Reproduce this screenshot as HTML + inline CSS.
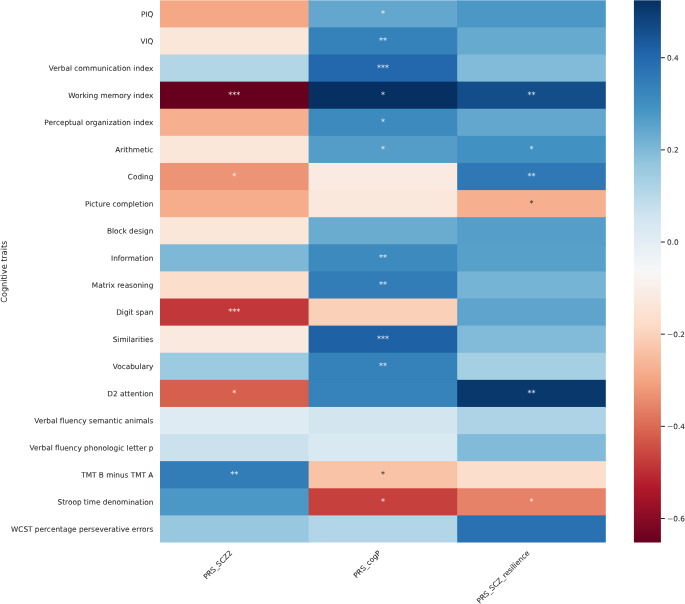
<!DOCTYPE html>
<html lang="en">
<head>
<meta charset="utf-8">
<title>Heatmap</title>
<style>
html,body{margin:0;padding:0;background:#fff;}
body{width:685px;height:604px;overflow:hidden;}
svg{display:block;}
text{font-family:"DejaVu Sans","Liberation Sans",sans-serif;fill:#262626;stroke:#262626;stroke-width:0.05px;}
.yl{font-size:7.33px;text-anchor:end;}
.xl{font-size:7.33px;text-anchor:end;}
.cb{font-size:7.33px;text-anchor:start;}
.ax{font-size:8.1px;text-anchor:middle;}
.an{font-size:8.0px;text-anchor:middle;stroke:none;}
.w{fill:#fff;fill-opacity:0.9;}
</style>
</head>
<body>
<svg width="685" height="604" viewBox="0 0 685 604">
<defs><linearGradient id="g" x1="0" y1="0" x2="0" y2="1">
<stop offset="0" stop-color="#053061"/>
<stop offset="0.1" stop-color="#2166ac"/>
<stop offset="0.2" stop-color="#4393c3"/>
<stop offset="0.3" stop-color="#92c5de"/>
<stop offset="0.4" stop-color="#d1e5f0"/>
<stop offset="0.5" stop-color="#f7f7f7"/>
<stop offset="0.6" stop-color="#fddbc7"/>
<stop offset="0.7" stop-color="#f4a582"/>
<stop offset="0.8" stop-color="#d6604d"/>
<stop offset="0.9" stop-color="#b2182b"/>
<stop offset="1" stop-color="#67001f"/>
</linearGradient></defs>
<rect x="0" y="0" width="685" height="604" fill="#ffffff"/>
<g shape-rendering="auto">
<rect x="160.00" y="0.30" width="149.60" height="28.11" fill="#f4a885"/>
<rect x="308.60" y="0.30" width="149.60" height="28.11" fill="#63a7ce"/>
<rect x="457.20" y="0.30" width="148.60" height="28.11" fill="#4b98c6"/>
<rect x="160.00" y="27.41" width="149.60" height="28.11" fill="#fbe6da"/>
<rect x="308.60" y="27.41" width="149.60" height="28.11" fill="#3581ba"/>
<rect x="457.20" y="27.41" width="148.60" height="28.11" fill="#67aacf"/>
<rect x="160.00" y="54.52" width="149.60" height="28.11" fill="#b3d6e7"/>
<rect x="308.60" y="54.52" width="149.60" height="28.11" fill="#2368ad"/>
<rect x="457.20" y="54.52" width="148.60" height="28.11" fill="#82bbd9"/>
<rect x="160.00" y="81.63" width="149.60" height="28.11" fill="#67001f"/>
<rect x="308.60" y="81.63" width="149.60" height="28.11" fill="#053061"/>
<rect x="457.20" y="81.63" width="148.60" height="28.11" fill="#144e8a"/>
<rect x="160.00" y="108.74" width="149.60" height="28.11" fill="#f6b090"/>
<rect x="308.60" y="108.74" width="149.60" height="28.11" fill="#3c8abe"/>
<rect x="457.20" y="108.74" width="148.60" height="28.11" fill="#63a7ce"/>
<rect x="160.00" y="135.85" width="149.60" height="28.11" fill="#fbe6da"/>
<rect x="308.60" y="135.85" width="149.60" height="28.11" fill="#539dc8"/>
<rect x="457.20" y="135.85" width="148.60" height="28.11" fill="#4191c2"/>
<rect x="160.00" y="162.96" width="149.60" height="28.11" fill="#ec9475"/>
<rect x="308.60" y="162.96" width="149.60" height="28.11" fill="#faeae1"/>
<rect x="457.20" y="162.96" width="148.60" height="28.11" fill="#2f78b5"/>
<rect x="160.00" y="190.07" width="149.60" height="28.11" fill="#f5ad8c"/>
<rect x="308.60" y="190.07" width="149.60" height="28.11" fill="#fae8dd"/>
<rect x="457.20" y="190.07" width="148.60" height="28.11" fill="#f6b090"/>
<rect x="160.00" y="217.18" width="149.60" height="28.11" fill="#fbe6da"/>
<rect x="308.60" y="217.18" width="149.60" height="28.11" fill="#6aacd0"/>
<rect x="457.20" y="217.18" width="148.60" height="28.11" fill="#559ec9"/>
<rect x="160.00" y="244.29" width="149.60" height="28.11" fill="#7eb8d7"/>
<rect x="308.60" y="244.29" width="149.60" height="28.11" fill="#3c8abe"/>
<rect x="457.20" y="244.29" width="148.60" height="28.11" fill="#57a0ca"/>
<rect x="160.00" y="271.40" width="149.60" height="28.11" fill="#fcdecc"/>
<rect x="308.60" y="271.40" width="149.60" height="28.11" fill="#327cb8"/>
<rect x="457.20" y="271.40" width="148.60" height="28.11" fill="#76b4d5"/>
<rect x="160.00" y="298.51" width="149.60" height="28.11" fill="#c2383a"/>
<rect x="308.60" y="298.51" width="149.60" height="28.11" fill="#fbd0b9"/>
<rect x="457.20" y="298.51" width="148.60" height="28.11" fill="#5fa4cc"/>
<rect x="160.00" y="325.62" width="149.60" height="28.11" fill="#fae9df"/>
<rect x="308.60" y="325.62" width="149.60" height="28.11" fill="#1e61a5"/>
<rect x="457.20" y="325.62" width="148.60" height="28.11" fill="#82bbd9"/>
<rect x="160.00" y="352.73" width="149.60" height="28.11" fill="#9bcae1"/>
<rect x="308.60" y="352.73" width="149.60" height="28.11" fill="#3581ba"/>
<rect x="457.20" y="352.73" width="148.60" height="28.11" fill="#a5cfe3"/>
<rect x="160.00" y="379.84" width="149.60" height="28.11" fill="#d6604d"/>
<rect x="308.60" y="379.84" width="149.60" height="28.11" fill="#3682ba"/>
<rect x="457.20" y="379.84" width="148.60" height="28.11" fill="#09386c"/>
<rect x="160.00" y="406.95" width="149.60" height="28.11" fill="#deebf2"/>
<rect x="308.60" y="406.95" width="149.60" height="28.11" fill="#d3e6f0"/>
<rect x="457.20" y="406.95" width="148.60" height="28.11" fill="#aed3e6"/>
<rect x="160.00" y="434.06" width="149.60" height="28.11" fill="#cbe2ee"/>
<rect x="308.60" y="434.06" width="149.60" height="28.11" fill="#d9e9f1"/>
<rect x="457.20" y="434.06" width="148.60" height="28.11" fill="#82bbd9"/>
<rect x="160.00" y="461.17" width="149.60" height="28.11" fill="#327cb8"/>
<rect x="308.60" y="461.17" width="149.60" height="28.11" fill="#f9c3a8"/>
<rect x="457.20" y="461.17" width="148.60" height="28.11" fill="#fcdecc"/>
<rect x="160.00" y="488.28" width="149.60" height="28.11" fill="#4b98c6"/>
<rect x="308.60" y="488.28" width="149.60" height="28.11" fill="#c6403e"/>
<rect x="457.20" y="488.28" width="148.60" height="28.11" fill="#e58268"/>
<rect x="160.00" y="515.39" width="149.60" height="27.11" fill="#98c8e0"/>
<rect x="308.60" y="515.39" width="149.60" height="27.11" fill="#b2d5e7"/>
<rect x="457.20" y="515.39" width="148.60" height="27.11" fill="#2a71b2"/>
</g>
<text class="an w" transform="matrix(1 0.0005 0 1 382.90 16.16)">*</text>
<text class="an w" transform="matrix(1 0.0005 0 1 382.90 43.27)">**</text>
<text class="an w" transform="matrix(1 0.0005 0 1 382.90 70.38)">***</text>
<text class="an w" transform="matrix(1 0.0005 0 1 234.30 97.48)">***</text>
<text class="an w" transform="matrix(1 0.0005 0 1 382.90 97.48)">*</text>
<text class="an w" transform="matrix(1 0.0005 0 1 531.50 97.48)">**</text>
<text class="an w" transform="matrix(1 0.0005 0 1 382.90 124.60)">*</text>
<text class="an w" transform="matrix(1 0.0005 0 1 382.90 151.71)">*</text>
<text class="an w" transform="matrix(1 0.0005 0 1 531.50 151.71)">*</text>
<text class="an w" transform="matrix(1 0.0005 0 1 234.30 178.82)">*</text>
<text class="an w" transform="matrix(1 0.0005 0 1 531.50 178.82)">**</text>
<text class="an" transform="matrix(1 0.0005 0 1 531.50 205.93)">*</text>
<text class="an w" transform="matrix(1 0.0005 0 1 382.90 260.15)">**</text>
<text class="an w" transform="matrix(1 0.0005 0 1 382.90 287.26)">**</text>
<text class="an w" transform="matrix(1 0.0005 0 1 234.30 314.37)">***</text>
<text class="an w" transform="matrix(1 0.0005 0 1 382.90 341.48)">***</text>
<text class="an w" transform="matrix(1 0.0005 0 1 382.90 368.59)">**</text>
<text class="an w" transform="matrix(1 0.0005 0 1 234.30 395.70)">*</text>
<text class="an w" transform="matrix(1 0.0005 0 1 531.50 395.70)">**</text>
<text class="an w" transform="matrix(1 0.0005 0 1 234.30 477.03)">**</text>
<text class="an" transform="matrix(1 0.0005 0 1 382.90 477.03)">*</text>
<text class="an w" transform="matrix(1 0.0005 0 1 382.90 504.14)">*</text>
<text class="an w" transform="matrix(1 0.0005 0 1 531.50 504.14)">*</text>
<text class="yl" transform="matrix(1 0.0005 0 1 153.40 16.66)">PIQ</text>
<text class="yl" transform="matrix(1 0.0005 0 1 153.40 43.77)">VIQ</text>
<text class="yl" transform="matrix(1 0.0005 0 1 153.40 70.88)">Verbal communication index</text>
<text class="yl" transform="matrix(1 0.0005 0 1 153.40 97.98)">Working memory index</text>
<text class="yl" transform="matrix(1 0.0005 0 1 153.40 125.10)">Perceptual organization index</text>
<text class="yl" transform="matrix(1 0.0005 0 1 153.40 152.21)">Arithmetic</text>
<text class="yl" transform="matrix(1 0.0005 0 1 153.40 179.32)">Coding</text>
<text class="yl" transform="matrix(1 0.0005 0 1 153.40 206.43)">Picture completion</text>
<text class="yl" transform="matrix(1 0.0005 0 1 153.40 233.54)">Block design</text>
<text class="yl" transform="matrix(1 0.0005 0 1 153.40 260.65)">Information</text>
<text class="yl" transform="matrix(1 0.0005 0 1 153.40 287.76)">Matrix reasoning</text>
<text class="yl" transform="matrix(1 0.0005 0 1 153.40 314.87)">Digit span</text>
<text class="yl" transform="matrix(1 0.0005 0 1 153.40 341.98)">Similarities</text>
<text class="yl" transform="matrix(1 0.0005 0 1 153.40 369.09)">Vocabulary</text>
<text class="yl" transform="matrix(1 0.0005 0 1 153.40 396.20)">D2 attention</text>
<text class="yl" transform="matrix(1 0.0005 0 1 153.40 423.31)">Verbal fluency semantic animals</text>
<text class="yl" transform="matrix(1 0.0005 0 1 153.40 450.42)">Verbal fluency phonologic letter p</text>
<text class="yl" transform="matrix(1 0.0005 0 1 153.40 477.53)">TMT B minus TMT A</text>
<text class="yl" transform="matrix(1 0.0005 0 1 153.40 504.64)">Stroop time denomination</text>
<text class="yl" transform="matrix(1 0.0005 0 1 153.40 531.75)">WCST percentage perseverative errors</text>
<text class="xl" transform="translate(232.85 553.50) rotate(-45)" x="0" y="0">PRS_SCZ2</text>
<text class="xl" transform="translate(381.45 553.50) rotate(-45)" x="0" y="0">PRS_cogP</text>
<text class="xl" transform="translate(530.05 553.50) rotate(-45)" x="0" y="0">PRS_SCZ_resilience</text>
<text class="ax" transform="translate(6.80 271.70) rotate(-89.96)" x="0" y="0">Cognitive traits</text>
<rect x="633.90" y="0.30" width="27.00" height="542.20" fill="url(#g)"/>
<line x1="660.90" y1="57.71" x2="664.90" y2="57.71" stroke="#262626" stroke-width="1.0"/>
<text class="cb" transform="matrix(1 0.0005 0 1 667.10 60.41)">0.4</text>
<line x1="660.90" y1="149.87" x2="664.90" y2="149.87" stroke="#262626" stroke-width="1.0"/>
<text class="cb" transform="matrix(1 0.0005 0 1 667.10 152.57)">0.2</text>
<line x1="660.90" y1="242.03" x2="664.90" y2="242.03" stroke="#262626" stroke-width="1.0"/>
<text class="cb" transform="matrix(1 0.0005 0 1 667.10 244.73)">0.0</text>
<line x1="660.90" y1="334.18" x2="664.90" y2="334.18" stroke="#262626" stroke-width="1.0"/>
<text class="cb" transform="matrix(1 0.0005 0 1 667.10 336.88)">−0.2</text>
<line x1="660.90" y1="426.34" x2="664.90" y2="426.34" stroke="#262626" stroke-width="1.0"/>
<text class="cb" transform="matrix(1 0.0005 0 1 667.10 429.04)">−0.4</text>
<line x1="660.90" y1="518.49" x2="664.90" y2="518.49" stroke="#262626" stroke-width="1.0"/>
<text class="cb" transform="matrix(1 0.0005 0 1 667.10 521.19)">−0.6</text>
</svg>
</body>
</html>
